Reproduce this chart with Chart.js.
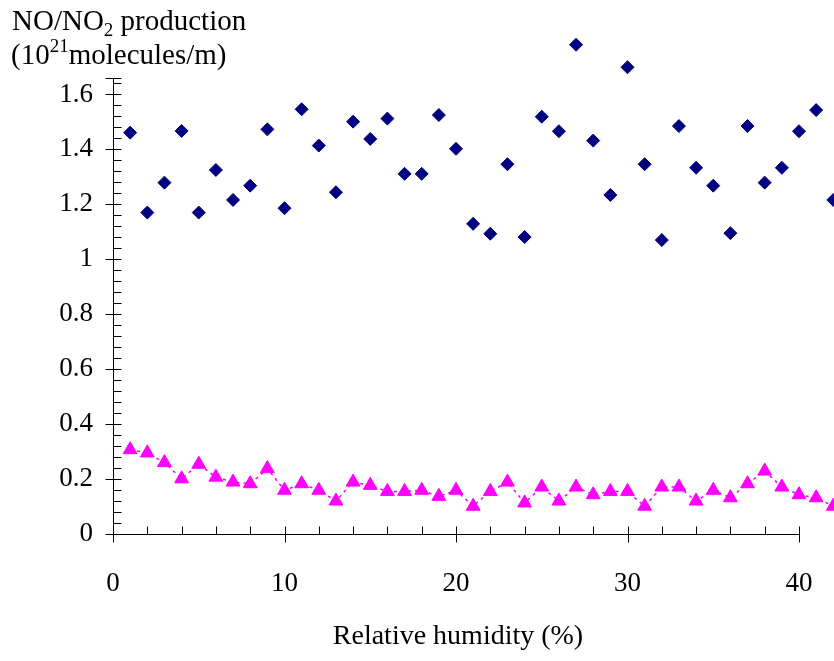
<!DOCTYPE html>
<html>
<head>
<meta charset="utf-8">
<script src="https://cdn.jsdelivr.net/npm/chart.js@4.4.1/dist/chart.umd.min.js"></script>
<style>
html,body{margin:0;padding:0;background:#ffffff;}
#wrap{width:834px;height:661px;position:relative;overflow:hidden;}
canvas{display:block;}
</style>
</head>
<body>
<div id="wrap"><canvas id="c" width="834" height="661"></canvas></div>
<script>
// ---- data ----
const humidity = [1,2,3,4,5,6,7,8,9,10,11,12,13,14,15,16,17,18,19,20,21,22,23,24,25,26,27,28,29,30,31,32,33,34,35,36,37,38,39,40,41,42];
const seriesDiamond = [1.461,1.170,1.279,1.467,1.170,1.325,1.216,1.268,1.473,1.186,1.546,1.414,1.244,1.501,1.438,1.512,1.311,1.311,1.525,1.402,1.129,1.093,1.346,1.081,1.519,1.466,1.781,1.432,1.234,1.699,1.346,1.070,1.485,1.333,1.268,1.095,1.485,1.279,1.333,1.466,1.543,1.216];
const seriesTriangle = [0.307,0.295,0.260,0.201,0.254,0.207,0.189,0.183,0.238,0.159,0.183,0.159,0.120,0.189,0.177,0.155,0.155,0.159,0.137,0.159,0.101,0.155,0.189,0.113,0.171,0.120,0.171,0.143,0.155,0.155,0.101,0.171,0.171,0.120,0.159,0.132,0.183,0.229,0.171,0.143,0.132,0.101];
const xTickValues = [0,10,20,30,40];
const yTickValues = [0,0.2,0.4,0.6,0.8,1.0,1.2,1.4,1.6];
const xAxisEnd = 40;     // drawn x axis ends here
const yAxisEnd = 1.66;   // drawn y axis ends here
const xTitle = 'Relative humidity (%)';

const FONT = '"Liberation Serif", "Times New Roman", serif';

const toPoints = (xs, ys) => xs.map((x, i) => ({x: x, y: ys[i]}));

// axis lines and tick marks (majors cross the axis, minors point inward), x-axis title
const axesPlugin = {
  id: 'axesTicks',
  beforeDatasetsDraw(chart) {
    const {ctx, scales} = chart;
    const xs = scales.x, ys = scales.y;
    const ax = Math.round(xs.getPixelForValue(0)) + 0.5;
    const ay = Math.round(ys.getPixelForValue(0)) + 0.5;
    const xEnd = Math.round(xs.getPixelForValue(xAxisEnd)) + 0.5;
    const yTop = Math.round(ys.getPixelForValue(yAxisEnd)) + 0.5;
    ctx.save();
    ctx.strokeStyle = '#000000';
    ctx.lineWidth = 1;
    ctx.beginPath();
    ctx.moveTo(ax, yTop);
    ctx.lineTo(ax, ay);
    ctx.lineTo(xEnd, ay);
    for (let v = 0; v <= xAxisEnd + 1e-9; v += 2) {
      const px = Math.round(xs.getPixelForValue(v)) + 0.5;
      const major = Math.abs(v % 10) < 1e-9;
      ctx.moveTo(px, ay - 8);
      ctx.lineTo(px, major ? ay + 8 : ay);
    }
    for (let k = 0; k * 0.04 <= yAxisEnd + 1e-9; k++) {
      const py = Math.round(ys.getPixelForValue(k * 0.04)) + 0.5;
      const major = k % 5 === 0;
      ctx.moveTo(major ? ax - 8 : ax, py);
      ctx.lineTo(ax + 8, py);
    }
    ctx.moveTo(ax - 8, yTop);
    ctx.lineTo(ax + 8, yTop);
    ctx.stroke();

    // x-axis title, centred under the drawn axis
    ctx.fillStyle = '#000000';
    ctx.font = '28px ' + FONT;
    ctx.textAlign = 'center';
    ctx.textBaseline = 'middle';
    ctx.fillText(xTitle, (xs.getPixelForValue(0) + xs.getPixelForValue(xAxisEnd)) / 2 + 2, 637);
    ctx.restore();
  }
};

// two-line axis caption in the top-left corner
const captionPlugin = {
  id: 'caption',
  afterDraw(chart) {
    const ctx = chart.ctx;
    ctx.save();
    ctx.fillStyle = '#000000';
    ctx.textBaseline = 'alphabetic';
    ctx.textAlign = 'left';
    const big = '29px ' + FONT, small = '19px ' + FONT;
    let x = 12, y = 30;
    const seg = (t, f, dy) => { ctx.font = f; ctx.fillText(t, x, y + dy); x += ctx.measureText(t).width; };
    seg('NO/NO', big, 0); seg('2', small, 6); seg(' production', big, 0);
    x = 11; y = 64;
    seg('(10', big, 0); seg('21', small, -12); seg('molecules/m)', big, 0);
    ctx.restore();
  }
};

new Chart(document.getElementById('c'), {
  type: 'scatter',
  data: {
    datasets: [
      {
        label: 'NO',
        data: toPoints(humidity, seriesDiamond),
        showLine: false,
        pointStyle: 'rectRot',
        pointRadius: 6.5,
        pointBorderWidth: 1,
        backgroundColor: '#000080',
        borderColor: '#000080',
        clip: false
      },
      {
        label: 'NO2',
        data: toPoints(humidity, seriesTriangle),
        showLine: true,
        borderColor: '#ff00ff',
        borderWidth: 1.5,
        borderDash: [3, 4],
        pointStyle: 'triangle',
        pointRadius: 8,
        pointBorderWidth: 1,
        pointBackgroundColor: '#ff00ff',
        pointBorderColor: '#ff00ff',
        clip: false
      }
    ]
  },
  options: {
    responsive: false,
    animation: false,
    devicePixelRatio: 1,
    layout: { autoPadding: false, padding: { top: 39.5, right: 0.7, bottom: 0, left: 0 } },
    plugins: { legend: { display: false }, tooltip: { enabled: false } },
    scales: {
      x: {
        type: 'linear', min: 0, max: 42,
        grid: { display: false, drawTicks: false }, border: { display: false },
        afterBuildTicks: s => { s.ticks = xTickValues.map(v => ({value: v})); },
        ticks: { color: '#000000', padding: 34, font: { family: FONT, size: 27 }, maxRotation: 0, callback: v => String(v) },
        afterFit: s => { s.height = 127; s.paddingLeft = 0; s.paddingRight = 0; }
      },
      y: {
        type: 'linear', min: 0, max: 1.8,
        grid: { display: false, drawTicks: false }, border: { display: false },
        afterBuildTicks: s => { s.ticks = yTickValues.map(v => ({value: v})); },
        ticks: { color: '#000000', padding: 20, font: { family: FONT, size: 27 }, callback: v => String(+v.toFixed(1)) },
        afterFit: s => { s.width = 113; s.paddingTop = 0; s.paddingBottom = 0; }
      }
    }
  },
  plugins: [axesPlugin, captionPlugin]
});
</script>
</body>
</html>
